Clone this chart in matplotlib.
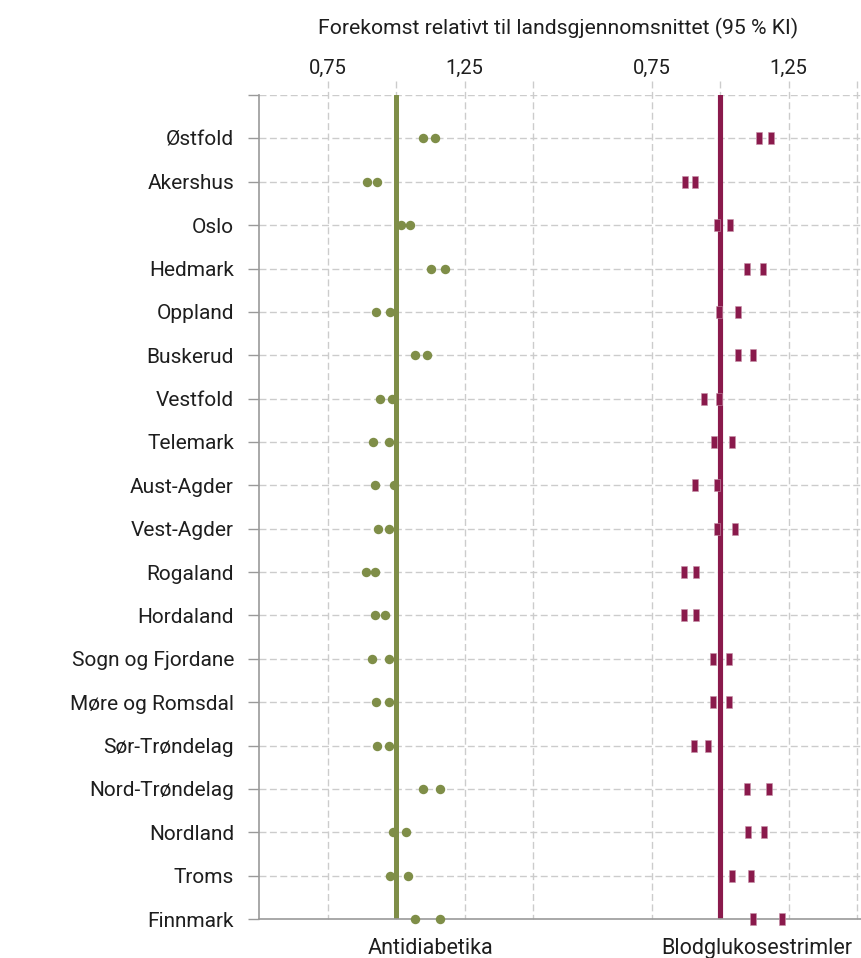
import matplotlib
matplotlib.use("Agg")
import matplotlib.pyplot as plt
from matplotlib.transforms import blended_transform_factory

plt.rcParams['font.family'] = ['Roboto', 'DejaVu Sans']

fylker = ['Østfold', 'Akershus', 'Oslo', 'Hedmark', 'Oppland', 'Buskerud',
          'Vestfold', 'Telemark', 'Aust-Agder', 'Vest-Agder', 'Rogaland',
          'Hordaland', 'Sogn og Fjordane', 'Møre og Romsdal', 'Sør-Trøndelag',
          'Nord-Trøndelag', 'Nordland', 'Troms', 'Finnmark']

# 95 % KI, antidiabetika
anti_lav = [1.098, 0.894, 1.019, 1.127, 0.928, 1.069, 0.941, 0.917, 0.923, 0.936,
            0.889, 0.925, 0.913, 0.928, 0.931, 1.100, 0.990, 0.979, 1.068]
anti_hoy = [1.142, 0.932, 1.052, 1.179, 0.978, 1.114, 0.984, 0.974, 0.991, 0.976,
            0.925, 0.958, 0.973, 0.974, 0.976, 1.161, 1.038, 1.045, 1.161]

# 95 % KI, blodglukosestrimler
strim_lav = [1.141, 0.874, 0.990, 1.099, 0.995, 1.066, 0.941, 0.978, 0.909, 0.990,
             0.870, 0.870, 0.974, 0.974, 0.906, 1.097, 1.103, 1.044, 1.119]
strim_hoy = [1.185, 0.910, 1.036, 1.158, 1.066, 1.121, 0.996, 1.044, 0.990, 1.055,
             0.914, 0.914, 1.034, 1.034, 0.956, 1.180, 1.161, 1.114, 1.227]

panel_navn = ['Antidiabetika', 'Blodglukosestrimler']
tick_verdier = [0.75, 1.25]
tick_tekst = ['0,75', '1,25']
grid_verdier = [0.75, 1.0, 1.25, 1.5]

GREEN = '#7f8e48'
MAROON = '#8a1a4c'
GRID = '#cccccc'
TXT = '#1e1e1e'
SHIFT = 1.1825  # avstand mellom panelene i x-enheter

fig = plt.figure(figsize=(8.62, 9.58), dpi=100)
ax = fig.add_axes([0.3005, 0.0407, 0.6995, 0.8601])

n = len(fylker)
ypos = list(range(n))
ax.set_ylim(n - 1, -1)
ax.set_xlim(0.5, 2.7007)

# horisontalt rutenett
for y in range(-1, n - 1):
    ax.axhline(y, color=GRID, lw=1, ls=(0, (5, 2.5)), zorder=0)

# vertikalt rutenett (går litt over aksen)
gx = [g for g in grid_verdier] + [g + SHIFT for g in grid_verdier]
ax.vlines(gx, -1.32, n - 1, colors=GRID, lw=1, linestyles=(0, (5, 2.5)),
          clip_on=False, zorder=0)

# referanselinjer ved 1
ax.plot([1.0, 1.0], [-1, n - 1], color=GREEN, lw=3.6, solid_capstyle='round', zorder=2)
ax.plot([1.0 + SHIFT] * 2, [-1, n - 1], color=MAROON, lw=3.7,
        solid_capstyle='round', zorder=2)

ax.plot(anti_lav, ypos, 'o', color=GREEN, ms=6.8, mec='none', clip_on=False, zorder=3)
ax.plot(anti_hoy, ypos, 'o', color=GREEN, ms=6.8, mec='none', clip_on=False, zorder=3)

rekt = [(-0.25, -0.5), (0.25, -0.5), (0.25, 0.5), (-0.25, 0.5), (-0.25, -0.5)]
for serie in (strim_lav, strim_hoy):
    ax.plot([v + SHIFT for v in serie], ypos, ls='none', marker=rekt, color=MAROON,
            ms=8.2, mec='#c690a8', mew=0.4, clip_on=False, zorder=3)

# akser
for s in ['top', 'right']:
    ax.spines[s].set_visible(False)
for s in ['left', 'bottom']:
    ax.spines[s].set_color('#9a9a9a')
    ax.spines[s].set_linewidth(1.2)

ax.set_yticks(list(range(-1, n)))
ax.set_yticklabels([''] + fylker, fontsize=15, color=TXT)
ax.tick_params(axis='y', length=8, width=1, color='#9a9a9a', pad=10)

ax.xaxis.tick_top()
ax.set_xticks(tick_verdier + [t + SHIFT for t in tick_verdier])
ax.set_xticklabels(tick_tekst * 2, fontsize=14.5, color=TXT)
ax.tick_params(axis='x', length=0, pad=12.5)

fig.text(0.647, 0.9708, 'Forekomst relativt til landsgjennomsnittet (95 % KI)',
         ha='center', va='center', fontsize=15.2, color=TXT)

trans = blended_transform_factory(ax.transData, fig.transFigure)
for i, navn in enumerate(panel_navn):
    ax.text(1.125 + i * SHIFT + 0.01 * i, 0.0104, navn, transform=trans, ha='center',
            va='center', fontsize=15.5, color=TXT)

fig.savefig('out.png', dpi=100)
